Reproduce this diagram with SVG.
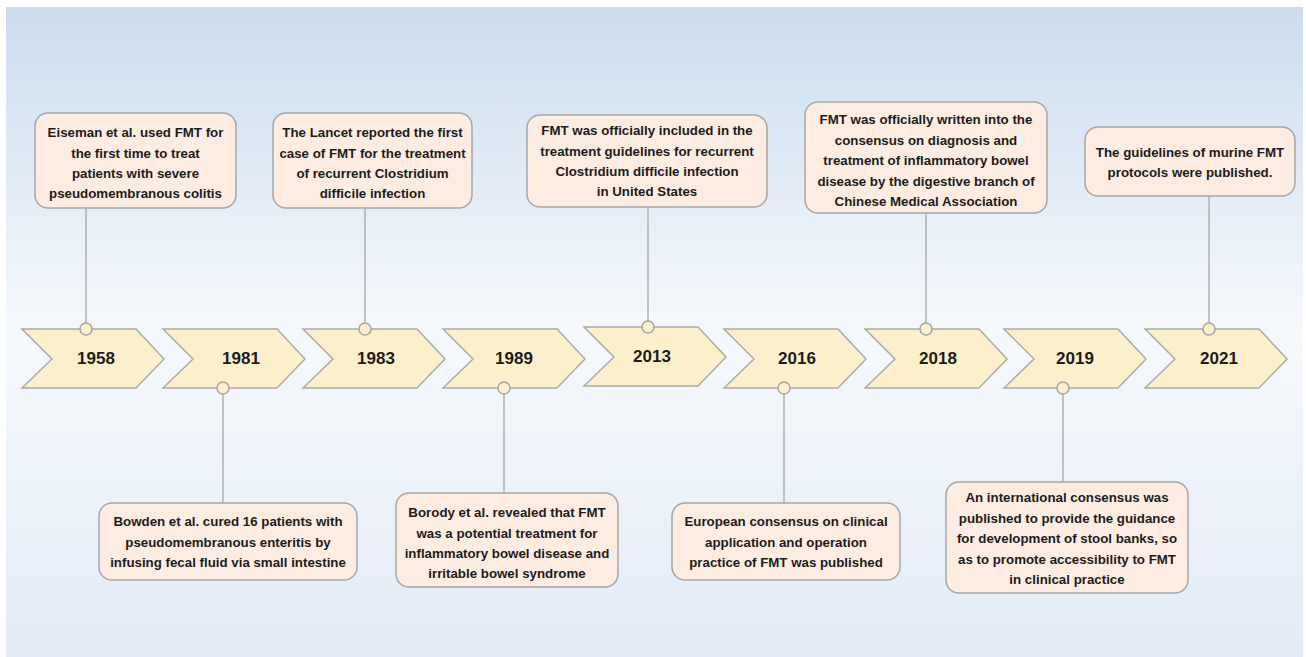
<svg xmlns="http://www.w3.org/2000/svg" width="1306" height="657" viewBox="0 0 1306 657">
<defs>
<linearGradient id="bg" x1="0" y1="0" x2="0" y2="1">
<stop offset="0" stop-color="#cbdcef"/>
<stop offset="0.5" stop-color="#f6f9fc"/>
<stop offset="1" stop-color="#e2ebf7"/>
</linearGradient>
<polygon id="chev" points="0,0 114,0 142,30 114,59 0,59 30,30"/>
</defs>
<style>
.box{fill:#fdece2;stroke:#a6a6a6;stroke-width:1.5}
.chev{fill:#fcefcb;stroke:#ababab;stroke-width:1.5}
.dot{fill:#fcf0cf;stroke:#a6a6a6;stroke-width:1.5}
.con{stroke:#b0b0b0;stroke-width:1.5;fill:none}
.t{font-family:"Liberation Sans",Arial,sans-serif;font-weight:bold;font-size:13.3px;fill:#1c1c1c;text-anchor:middle}
.y{font-family:"Liberation Sans",Arial,sans-serif;font-weight:bold;font-size:17px;fill:#1c1c1c;text-anchor:middle}
</style>
<rect x="6" y="7" width="1297" height="650" fill="url(#bg)"/>
<g id="connectors">
<line class="con" x1="86" y1="208" x2="86" y2="323"/>
<line class="con" x1="223" y1="394" x2="223" y2="503"/>
<line class="con" x1="365" y1="208" x2="365" y2="323"/>
<line class="con" x1="504" y1="394" x2="504" y2="493"/>
<line class="con" x1="648" y1="207" x2="648" y2="321"/>
<line class="con" x1="784" y1="394" x2="784" y2="503"/>
<line class="con" x1="926" y1="213" x2="926" y2="323"/>
<line class="con" x1="1063" y1="394" x2="1063" y2="482"/>
<line class="con" x1="1209" y1="196" x2="1209" y2="323"/>
</g>
<g id="y1958"><use href="#chev" class="chev" x="22" y="329"/><text class="y" x="96" y="364">1958</text></g>
<g id="y1981"><use href="#chev" class="chev" x="163" y="329"/><text class="y" x="241" y="364">1981</text></g>
<g id="y1983"><use href="#chev" class="chev" x="303" y="329"/><text class="y" x="376" y="364">1983</text></g>
<g id="y1989"><use href="#chev" class="chev" x="443" y="329"/><text class="y" x="514" y="364">1989</text></g>
<g id="y2013"><use href="#chev" class="chev" x="584" y="327"/><text class="y" x="652" y="362">2013</text></g>
<g id="y2016"><use href="#chev" class="chev" x="724" y="329"/><text class="y" x="797" y="364">2016</text></g>
<g id="y2018"><use href="#chev" class="chev" x="865" y="329"/><text class="y" x="938" y="364">2018</text></g>
<g id="y2019"><use href="#chev" class="chev" x="1004" y="329"/><text class="y" x="1075" y="364">2019</text></g>
<g id="y2021"><use href="#chev" class="chev" x="1145" y="329"/><text class="y" x="1219" y="364">2021</text></g>
<g id="dots">
<circle class="dot" cx="86" cy="329" r="6"/>
<circle class="dot" cx="223" cy="388" r="6"/>
<circle class="dot" cx="365" cy="329" r="6"/>
<circle class="dot" cx="504" cy="388" r="6"/>
<circle class="dot" cx="648" cy="327" r="6"/>
<circle class="dot" cx="784" cy="388" r="6"/>
<circle class="dot" cx="926" cy="329" r="6"/>
<circle class="dot" cx="1063" cy="388" r="6"/>
<circle class="dot" cx="1209" cy="329" r="6"/>
</g>
<g id="n1958">
<rect class="box" x="35" y="113" width="201" height="95" rx="13"/>
<text class="t" x="135.5" y="137">Eiseman et al. used FMT for</text>
<text class="t" x="135.5" y="157.5">the first time to treat</text>
<text class="t" x="135.5" y="178">patients with severe</text>
<text class="t" x="135.5" y="198">pseudomembranous colitis</text>
</g>
<g id="n1981">
<rect class="box" x="99" y="503" width="258" height="77" rx="13"/>
<text class="t" x="228" y="526">Bowden et al. cured 16 patients with</text>
<text class="t" x="228" y="546.5">pseudomembranous enteritis by</text>
<text class="t" x="228" y="567">infusing fecal fluid via small intestine</text>
</g>
<g id="n1983">
<rect class="box" x="273" y="113" width="199" height="95" rx="13"/>
<text class="t" x="372.5" y="137">The Lancet reported the first</text>
<text class="t" x="372.5" y="157.5">case of FMT for the treatment</text>
<text class="t" x="372.5" y="178">of recurrent Clostridium</text>
<text class="t" x="372.5" y="198">difficile infection</text>
</g>
<g id="n1989">
<rect class="box" x="396" y="493" width="222" height="94" rx="13"/>
<text class="t" x="507" y="517">Borody et al. revealed that FMT</text>
<text class="t" x="507" y="537.5">was a potential treatment for</text>
<text class="t" x="507" y="558">inflammatory bowel disease and</text>
<text class="t" x="507" y="578">irritable bowel syndrome</text>
</g>
<g id="n2013">
<rect class="box" x="527" y="115" width="240" height="92" rx="13"/>
<text class="t" x="647" y="135">FMT was officially included in the</text>
<text class="t" x="647" y="155.5">treatment guidelines for recurrent</text>
<text class="t" x="647" y="176">Clostridium difficile infection</text>
<text class="t" x="647" y="196">in United States</text>
</g>
<g id="n2016">
<rect class="box" x="672" y="503" width="228" height="77" rx="13"/>
<text class="t" x="786" y="526">European consensus on clinical</text>
<text class="t" x="786" y="546.5">application and operation</text>
<text class="t" x="786" y="567">practice of FMT was published</text>
</g>
<g id="n2018">
<rect class="box" x="805" y="102" width="242" height="111" rx="13"/>
<text class="t" x="926" y="124">FMT was officially written into the</text>
<text class="t" x="926" y="144.5">consensus on diagnosis and</text>
<text class="t" x="926" y="165">treatment of inflammatory bowel</text>
<text class="t" x="926" y="185.5">disease by the digestive branch of</text>
<text class="t" x="926" y="206">Chinese Medical Association</text>
</g>
<g id="n2019">
<rect class="box" x="946" y="482" width="242" height="111" rx="13"/>
<text class="t" x="1067" y="502">An international consensus was</text>
<text class="t" x="1067" y="522.5">published to provide the guidance</text>
<text class="t" x="1067" y="543">for development of stool banks, so</text>
<text class="t" x="1067" y="563.5">as to promote accessibility to FMT</text>
<text class="t" x="1067" y="584">in clinical practice</text>
</g>
<g id="n2021">
<rect class="box" x="1085" y="127" width="210" height="69" rx="13"/>
<text class="t" x="1190" y="157">The guidelines of murine FMT</text>
<text class="t" x="1190" y="177">protocols were published.</text>
</g>
</svg>
